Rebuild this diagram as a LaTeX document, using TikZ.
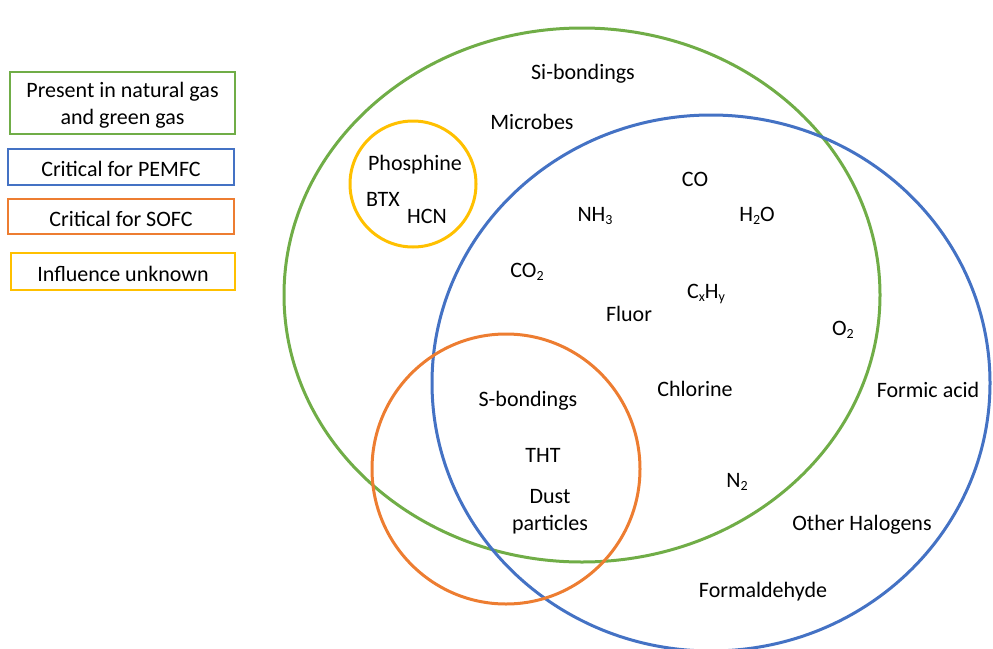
\documentclass[tikz,border=0pt]{standalone}
\usepackage{fontspec}
\setmainfont{Carlito}
\definecolor{cgreen}{RGB}{112,173,71}
\definecolor{cblue}{RGB}{68,114,196}
\definecolor{corange}{RGB}{237,125,49}
\definecolor{cyellow}{RGB}{255,192,0}
\newcommand{\mysub}[1]{\raisebox{-0.35ex}{\fontsize{14}{14}\selectfont #1}}
\tikzset{
  lbl/.style={font=\fontsize{22}{27}\selectfont, inner sep=0pt, align=center, yshift=-2pt},
  legbox/.style={draw, line width=2pt},
  ring/.style={line width=3pt}
}
\begin{document}
\begin{tikzpicture}[x=1pt,y=-1pt]
\useasboundingbox (0,0) rectangle (993,648);
\begin{scope}
\clip (0,0) rectangle (993,648);
% circles
\draw[ring, cgreen] (582,295) ellipse [x radius=298, y radius=267];
\draw[ring, cblue] (711,383) ellipse [x radius=279, y radius=268];
\draw[ring, corange] (506,469) ellipse [x radius=134, y radius=135];
\draw[ring, cyellow] (413,184) ellipse [x radius=63, y radius=63];
\end{scope}
% legend
\draw[legbox, cgreen] (10,72) rectangle (235,134);
\node[lbl] (lg) at (122.5,103) {Present in natural gas\\and green gas};
\draw[legbox, cblue] (8,149) rectangle (234,185);
\node[lbl] (lb) at (121,167) {Critical for PEMFC};
\draw[legbox, corange] (8,199) rectangle (234,234);
\node[lbl] (lo) at (121,216.5) {Critical for SOFC};
\draw[legbox, cyellow] (11,253) rectangle (235,290);
\node[lbl] (ly) at (123,271.5) {Influence unknown};
% labels
\node[lbl] (si) at (583,72) {Si-bondings};
\node[lbl] (mic) at (532,120) {Microbes};
\node[lbl] (pho) at (415,163) {Phosphine};
\node[lbl] (btx) at (383,197) {BTX};
\node[lbl] (hcn) at (427,214) {HCN};
\node[lbl] (co) at (695,177) {CO};
\node[lbl] (nh3) at (595,214) {NH\mysub{3}};
\node[lbl] (h2o) at (757,214) {H\mysub{2}O};
\node[lbl] (co2) at (527,270) {CO\mysub{2}};
\node[lbl] (cxhy) at (706,292) {C\mysub{x}H\mysub{y}};
\node[lbl] (flu) at (629,312) {Fluor};
\node[lbl] (o2) at (843,328) {O\mysub{2}};
\node[lbl] (chl) at (695,387) {Chlorine};
\node[lbl] (form) at (928,388) {Formic acid};
\node[lbl] (sb) at (528,399) {S-bondings};
\node[lbl] (tht) at (543,453) {THT};
\node[lbl] (dust) at (550,510) {Dust\\particles};
\node[lbl] (n2) at (737,480) {N\mysub{2}};
\node[lbl] (oh) at (862,523) {Other Halogens};
\node[lbl] (fald) at (763,590) {Formaldehyde};
\end{tikzpicture}
\end{document}
